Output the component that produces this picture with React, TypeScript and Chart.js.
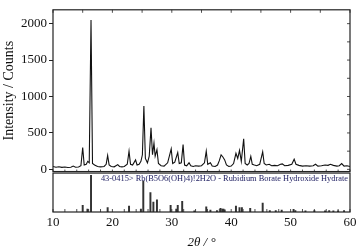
import React, { useEffect, useRef } from "react";
import { Chart, registerables } from "chart.js";

Chart.register(...registerables);

// Measured XRD profile: [2θ, counts]
const traceTheta = [
  10.0, 10.5, 11.0, 11.5, 12.0, 12.5, 13.0, 13.4, 13.8, 14.3, 14.7, 15.0, 15.25, 15.6, 15.85, 16.1, 16.4, 16.65, 17.0, 17.5,
  18.0, 18.6, 18.95, 19.2, 19.45, 19.8, 20.3, 20.6, 20.9, 21.2, 21.6, 22.0, 22.5, 22.8, 23.05, 23.4, 23.9, 24.15, 24.5, 24.8,
  25.05, 25.3, 25.55, 25.9, 26.2, 26.5, 26.75, 27.0, 27.2, 27.5, 27.75, 28.2, 28.7, 29.3, 29.9, 30.15, 30.5, 31.0, 31.25, 31.6,
  31.9, 32.15, 32.5, 32.9, 33.2, 33.6, 34.0, 34.5, 35.0, 35.5, 35.8, 36.05, 36.5, 36.8, 37.3, 37.7, 38.0, 38.3, 38.6, 38.9,
  39.2, 39.6, 40.0, 40.4, 40.8, 41.1, 41.4, 41.7, 42.1, 42.35, 42.7, 43.0, 43.3, 43.55, 43.9, 44.3, 44.8, 45.3, 45.55, 45.9,
  46.4, 46.8, 47.3, 47.8, 48.3, 48.6, 49.0, 49.6, 50.2, 50.6, 50.9, 51.4, 52.0, 52.6, 53.2, 53.8, 54.2, 54.6, 55.2, 55.8,
  56.3, 56.7, 57.2, 57.8, 58.2, 58.6, 59.0, 59.5, 60.0,
];
const traceCounts = [
  40, 30, 35, 28, 32, 25, 30, 45, 30, 32, 50, 300, 60, 70, 110, 90, 2050, 80, 60, 40,
  35, 40, 70, 190, 60, 40, 35, 50, 65, 40, 35, 40, 70, 250, 70, 60, 130, 60, 70, 110,
  200, 870, 150, 90, 180, 570, 200, 360, 180, 270, 80, 50, 45, 90, 280, 80, 100, 230, 80, 90,
  340, 60, 50, 90, 50, 40, 50, 45, 50, 90, 250, 70, 90, 45, 40, 60, 120, 200, 170, 130,
  60, 40, 45, 80, 220, 150, 260, 110, 420, 80, 60, 80, 180, 70, 60, 50, 70, 240, 80, 60,
  70, 50, 55, 50, 70, 75, 50, 55, 70, 140, 70, 55, 45, 50, 45, 50, 70, 45, 50, 60,
  55, 70, 55, 45, 50, 80, 45, 50, 40,
];

// Reference pattern 43-0415: [2θ, relative intensity]
const stickTheta = [
  15.0, 15.8, 16.4, 19.2, 22.8, 24.8, 25.2, 26.4, 26.9, 27.5, 29.8, 30.75, 31.0, 31.75, 33.8, 35.8, 36.5, 37.6, 38.2, 38.5,
  38.7, 38.9, 40.8, 41.4, 41.8, 43.2, 45.3, 46.5, 47.5, 48.5, 50.5, 50.8, 52.5, 54.0, 55.8, 56.5, 57.2, 58.0, 59.0,
];
const stickIntensity = [
  18, 8, 100, 12, 16, 8, 84, 53, 27, 33, 18, 8, 18, 29, 3, 14, 5, 4, 10, 8,
  8, 6, 16, 12, 12, 10, 24, 4, 4, 5, 7, 4, 3, 4, 3, 4, 3, 3, 4,
];

const xTickValues = [10, 20, 30, 40, 50, 60];
const yTickValues = [0, 500, 1000, 1500, 2000];
const refLabel = "43-0415> Rb(B5O6(OH)4)!2H2O - Rubidium Borate Hydroxide Hydrate";
const yTitle = "Intensity / Counts";
const xTitle = "2θ / °";

const FONT = "'Liberation Serif', 'Times New Roman', Times, serif";

const framePlugin = {
  id: "frames",
  afterDraw(chart: any) {
    const { ctx, chartArea } = chart;
    const x = chart.scales.x;
    const y = chart.scales.y;
    const y2 = chart.scales.y2;
    const L = chartArea.left;
    const R = chartArea.right;
    ctx.save();
    ctx.strokeStyle = "#222";
    ctx.lineWidth = 1.2;
    ctx.strokeRect(L, y.top, R - L, y.bottom - y.top);
    ctx.strokeRect(L, y2.top + 1.5, R - L, y2.bottom - y2.top - 1.5);
    ctx.lineWidth = 0.8;
    ctx.beginPath();
    for (let v = 10; v <= 60; v += 5) {
      const px = x.getPixelForValue(v);
      ctx.moveTo(px, y.top);
      ctx.lineTo(px, y.top + 3);
    }
    for (let v = 0; v <= 2000; v += 250) {
      const py = y.getPixelForValue(v);
      ctx.moveTo(R, py);
      ctx.lineTo(R - 3, py);
    }
    for (let v = 10; v <= 60; v += 2) {
      const px = x.getPixelForValue(v);
      ctx.moveTo(px, y2.bottom);
      ctx.lineTo(px, y2.bottom - 3);
      ctx.moveTo(px, y.bottom);
      ctx.lineTo(px, y.bottom - 2);
    }
    ctx.stroke();
    ctx.fillStyle = "#1a1a5e";
    ctx.font = `8.4px ${FONT}`;
    ctx.textAlign = "right";
    ctx.textBaseline = "middle";
    ctx.fillText(refLabel, R - 2, y2.top + 7);
    ctx.restore();
  },
};

export default function App() {
  const ref = useRef<HTMLCanvasElement | null>(null);
  useEffect(() => {
    if (!ref.current) return;
    const trace = traceTheta.map((t, i) => ({ x: t, y: traceCounts[i] }));
    const sticks = stickTheta.map((t, i) => ({ x: t, y: stickIntensity[i] }));
    const chart = new Chart(ref.current, {
      type: "line",
      data: {
        datasets: [
          {
            type: "line",
            data: trace,
            borderColor: "#111",
            borderWidth: 1.1,
            pointRadius: 0,
            tension: 0,
            xAxisID: "x",
            yAxisID: "y",
          } as any,
          {
            type: "bar",
            data: sticks,
            backgroundColor: "#333",
            barThickness: 1.3,
            grouped: false,
            xAxisID: "x",
            yAxisID: "y2",
          } as any,
        ],
      },
      options: {
        animation: false,
        responsive: false,
        maintainAspectRatio: false,
        layout: { padding: { left: 0, right: 13, top: 4, bottom: 0 } },
        plugins: { legend: { display: false }, tooltip: { enabled: false } },
        scales: {
          x: {
            type: "linear",
            min: 10,
            max: 60,
            offset: false,
            afterBuildTicks: (s: any) => {
              s.ticks = xTickValues.map((v) => ({ value: v }));
            },
            afterFit: (s: any) => {
              s.height = 39;
            },
            grid: { display: false, drawTicks: false, offset: false },
            border: { display: false },
            ticks: {
              color: "#111",
              padding: 3,
              font: { family: FONT, size: 13 },
              callback: (v: any) => String(v),
            },
            title: {
              display: true,
              text: xTitle,
              color: "#111",
              font: { family: FONT, size: 13, style: "italic" },
              padding: { top: 0, bottom: 1 },
            },
          },
          y2: {
            type: "linear",
            position: "left",
            stack: "panels",
            stackWeight: 1,
            min: 0,
            max: 110,
            afterFit: (s: any) => {
              s.width = 53;
            },
            grid: { display: false },
            border: { display: false },
            ticks: { display: false },
          },
          y: {
            type: "linear",
            position: "left",
            stack: "panels",
            stackWeight: 4,
            min: -30,
            max: 2190,
            afterBuildTicks: (s: any) => {
              s.ticks = yTickValues.map((v) => ({ value: v }));
            },
            afterFit: (s: any) => {
              s.width = 53;
            },
            grid: { drawOnChartArea: false, drawTicks: true, tickLength: 4, color: "#222" },
            border: { display: false },
            ticks: {
              color: "#111",
              padding: 2,
              font: { family: FONT, size: 13 },
              callback: (v: any) => String(v),
            },
            title: {
              display: true,
              text: yTitle,
              color: "#111",
              font: { family: FONT, size: 14 },
              padding: { top: 1, bottom: 2 },
            },
          },
        },
      },
      plugins: [framePlugin],
    });
    return () => chart.destroy();
  }, []);
  return (
    <div style={{ position: "fixed", left: 0, top: 0, width: 363, height: 251, background: "#fff" }}>
      <canvas ref={ref} width={363} height={251} style={{ width: 363, height: 251, display: "block" }} />
    </div>
  );
}
